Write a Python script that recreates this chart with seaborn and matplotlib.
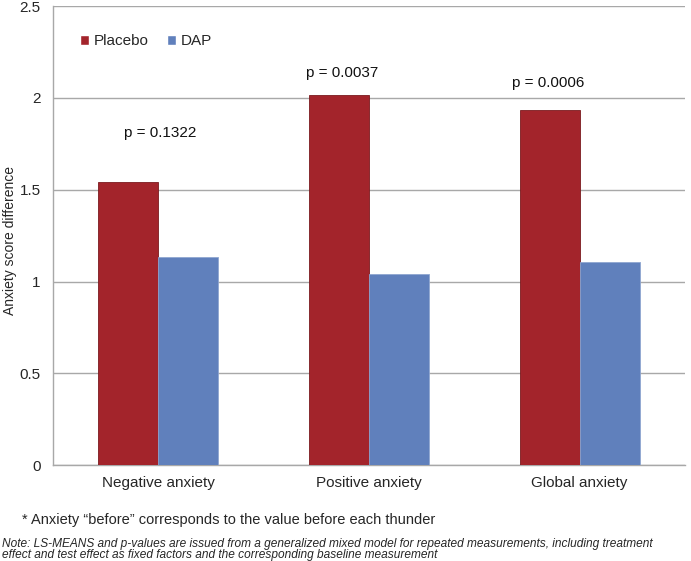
import matplotlib
matplotlib.use("Agg")
import matplotlib.pyplot as plt
import seaborn as sns
import pandas as pd

categories = ["Negative anxiety", "Positive anxiety", "Global anxiety"]
groups = ["Placebo", "DAP"]
placebo = [1.54, 2.015, 1.937]
dap = [1.135, 1.04, 1.106]
p_labels = ["p = 0.1322", "p = 0.0037", "p = 0.0006"]
p_pos_y = [1.81, 2.135, 2.08]
p_pos_x = [0.01, -0.13, -0.15]
yticks = [0, 0.5, 1, 1.5, 2, 2.5]
ytick_labels = ["0", "0.5", "1", "1.5", "2", "2.5"]

df = pd.DataFrame({
    "category": categories * 2,
    "group": [groups[0]] * 3 + [groups[1]] * 3,
    "value": placebo + dap,
})

sns.set_style("white")
plt.rcParams["font.family"] = ["Liberation Sans", "DejaVu Sans"]

fig = plt.figure(figsize=(6.91, 5.61), dpi=100)
ax = fig.add_axes([0.077, 0.171, 0.914, 0.818])

palette = {"Placebo": "#A3242B", "DAP": "#6080BC"}
sns.barplot(data=df, x="category", y="value", hue="group", order=categories,
            hue_order=groups, palette=palette, width=0.57, gap=0, ax=ax,
            saturation=1, errorbar=None, zorder=3)

edge = {"Placebo": "#7A1A1E", "DAP": "#8FA6D0"}
for cont, g in zip(ax.containers, groups):
    for bar in cont:
        bar.set_edgecolor(edge[g])
        bar.set_linewidth(0.6)

ax.set_ylim(0, 2.5)
ax.set_xlim(-0.5, 2.5)
ax.set_yticks(yticks)
ax.set_yticklabels(ytick_labels, fontsize=11)
ax.yaxis.grid(True, color="#A8A8A8", linewidth=1.0, zorder=0)
ax.set_axisbelow(True)
ax.tick_params(axis="y", length=5, color="#A8A8A8", width=1.0, pad=4)
ax.tick_params(axis="x", length=5, color="#A8A8A8", width=1.0, labelsize=11, pad=3)
ax.set_xticks([0, 1, 2])
ax.set_xticklabels(categories)
ax.set_xlabel("")
ax.set_ylabel("Anxiety score difference", fontsize=10)
ax.yaxis.set_label_coords(-0.057, 0.49)

for s in ["top", "right"]:
    ax.spines[s].set_visible(False)
for s in ["left", "bottom"]:
    ax.spines[s].set_color("#A8A8A8")
    ax.spines[s].set_linewidth(1.0)

for i, (lab, yy, dx) in enumerate(zip(p_labels, p_pos_y, p_pos_x)):
    ax.text(i + dx, yy, lab, ha="center", va="center", fontsize=11, color="#111111")

handles, labels = ax.get_legend_handles_labels()
ax.legend(handles, labels, loc="center left", bbox_to_anchor=(0.02, 0.924),
          frameon=False, fontsize=11, handlelength=0.6, handleheight=0.6,
          handletextpad=0.3, ncol=2, columnspacing=1.2)

fig.text(0.032, 0.073, "* Anxiety \u201cbefore\u201d corresponds to the value before each thunder",
         fontsize=10.5, va="center", ha="left")
fig.text(0.003, 0.031, "Note: LS-MEANS and p-values are issued from a generalized mixed model for repeated measurements, including treatment",
         fontsize=8.6, style="italic", va="center", ha="left")
fig.text(0.003, 0.0105, "effect and test effect as fixed factors and the corresponding baseline measurement",
         fontsize=8.6, style="italic", va="center", ha="left")

fig.savefig("out.png", dpi=100)
